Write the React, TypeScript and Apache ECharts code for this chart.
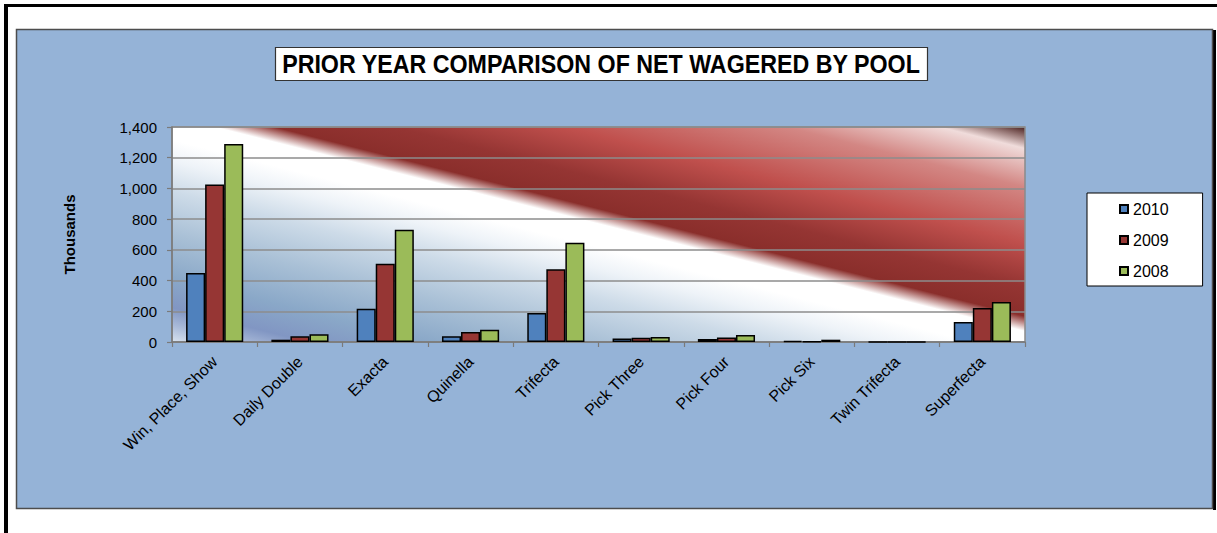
import React, { useEffect, useRef } from "react";
import * as echarts from "echarts";

const categories = [
  "Win, Place, Show",
  "Daily Double",
  "Exacta",
  "Quinella",
  "Trifecta",
  "Pick Three",
  "Pick Four",
  "Pick Six",
  "Twin Trifecta",
  "Superfecta",
];
const seriesNames = ["2010", "2009", "2008"];
const values2010 = [450, 15, 217, 38, 189, 22, 20, 8, 0, 130];
const values2009 = [1025, 37, 509, 65, 473, 28, 30, 4, 0, 221];
const values2008 = [1290, 50, 731, 80, 647, 32, 45, 15, 0, 260];
const titleText = "PRIOR YEAR COMPARISON OF NET WAGERED BY POOL";
const axisName = "Thousands";

const FONT = "'Liberation Sans', Arial, sans-serif";

export default function App() {
  const ref = useRef<HTMLDivElement>(null);
  useEffect(() => {
    if (!ref.current) return;
    const chart = echarts.init(ref.current, undefined, { renderer: "svg" });
    const gL = 172, gT = 127, gW = 853, gH = 215;
    // gradient with isolines parallel to the plot's top-left -> bottom-right diagonal
    const nx = gH, ny = gW;
    const len2 = nx * nx + ny * ny;
    const smax = gW * nx + gH * ny;
    const k = smax / len2;
    const bg = new echarts.graphic.LinearGradient(
      gL, gT + gH, gL + nx * k, gT + gH - ny * k,
      [
        { offset: 0.0, color: "#d8e2ee" },
        { offset: 0.04, color: "#a8b9d8" },
        { offset: 0.08, color: "#8196c3" },
        { offset: 0.15, color: "#8aa8c8" },
        { offset: 0.25, color: "#a9c0d6" },
        { offset: 0.35, color: "#cddbe8" },
        { offset: 0.42, color: "#eef3f8" },
        { offset: 0.47, color: "#ffffff" },
        { offset: 0.525, color: "#ffffff" },
        { offset: 0.56, color: "#8a2e2b" },
        { offset: 0.63, color: "#953533" },
        { offset: 0.73, color: "#c0504d" },
        { offset: 0.86, color: "#d38784" },
        { offset: 0.95, color: "#f0dcdb" },
        { offset: 1.0, color: "#4a201e" },
      ],
      true
    );
    const colors = ["#4F81BD", "#963634", "#9BBB59"];
    const data = [values2010, values2009, values2008];
    chart.setOption({
      animation: false,
      textStyle: { fontFamily: FONT },
      graphic: [
        { type: "rect", z: -10, shape: { x: 4, y: 4, width: 1213, height: 3 }, style: { fill: "#000" } },
        { type: "rect", z: -10, shape: { x: 4, y: 4, width: 4, height: 529 }, style: { fill: "#000" } },
        { type: "rect", z: -10, shape: { x: 1213, y: 30, width: 3, height: 480 }, style: { fill: "#000" } },
        {
          type: "rect", z: -9,
          shape: { x: 16.5, y: 29.5, width: 1196, height: 479 },
          style: { fill: "#95B3D7", stroke: "#4d4d4d", lineWidth: 1.5 },
        },
        {
          type: "rect", z: 10,
          shape: { x: 275.5, y: 47.5, width: 652, height: 33 },
          style: { fill: "#fff", stroke: "#333", lineWidth: 1.2 },
        },
        {
          type: "text", z: 11,
          x: 601, y: 64.5,
          scaleX: 0.93,
          style: {
            text: titleText,
            fill: "#000",
            font: `bold 25px ${FONT}`,
            textAlign: "center",
            textVerticalAlign: "middle",
          },
        },
      ],
      legend: {
        orient: "vertical",
        left: 1087,
        top: 193,
        padding: [8, 34, 7, 32],
        itemGap: 15,
        itemWidth: 8,
        itemHeight: 8,
        icon: "rect",
        backgroundColor: "#fff",
        borderColor: "#000",
        borderWidth: 1,
        textStyle: { fontSize: 16, lineHeight: 16, color: "#000", fontFamily: FONT },
        data: seriesNames,
      },
      grid: {
        left: gL, top: gT, width: gW, height: gH,
        show: true,
        backgroundColor: bg,
        borderColor: "#8a8a8a",
        borderWidth: 1.5,
      },
      xAxis: {
        type: "category",
        data: categories,
        axisLine: { lineStyle: { color: "#7a7a7a", width: 1.5 } },
        axisTick: { show: true, length: 5, lineStyle: { color: "#7a7a7a", width: 1.2 } },
        axisLabel: { rotate: 45, interval: 0, fontSize: 16, color: "#000", margin: 17, fontFamily: FONT },
        splitLine: { show: false },
      },
      yAxis: {
        type: "value",
        min: 0,
        max: 1400,
        interval: 200,
        name: axisName,
        nameLocation: "middle",
        nameRotate: 90,
        nameGap: 95,
        nameTextStyle: { fontWeight: "bold", fontSize: 15, color: "#000", fontFamily: FONT },
        axisLine: { show: true, lineStyle: { color: "#7a7a7a", width: 1.5 } },
        axisTick: { show: true, length: 5, lineStyle: { color: "#7a7a7a", width: 1.2 } },
        axisLabel: {
          fontSize: 15, color: "#000", margin: 15, fontFamily: FONT,
          formatter: (v: number) => v.toLocaleString("en-US"),
        },
        splitLine: { show: true, lineStyle: { color: "#8c8c8c", width: 1.5 } },
      },
      series: seriesNames.map((name, i) => ({
        name,
        type: "bar",
        data: data[i],
        barGap: "0%",
        barCategoryGap: "33%",
        itemStyle: { color: colors[i], borderColor: "#000", borderWidth: 1.5 },
      })),
    });
    return () => chart.dispose();
  }, []);
  return (
    <div
      ref={ref}
      style={{ position: "absolute", left: 0, top: 0, width: 1217, height: 533 }}
    />
  );
}
